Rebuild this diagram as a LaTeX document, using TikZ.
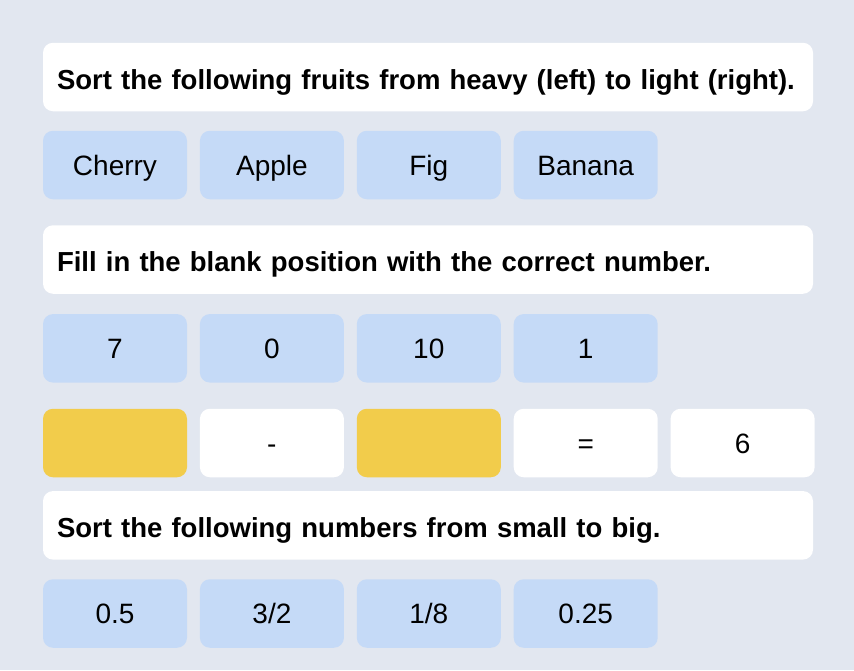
\documentclass[tikz,border=0pt]{standalone}
\usepackage{fontspec}
\setmainfont{Liberation Sans}
\usetikzlibrary{positioning}
\definecolor{bgcol}{RGB}{226,231,240}
\definecolor{cellblue}{RGB}{197,218,247}
\definecolor{blankyellow}{RGB}{242,204,75}

\begin{document}
\begin{tikzpicture}[
        x=1pt, y=-1pt,
        node distance=12.5pt,
        every node/.style={rounded corners=10pt, minimum height=68.5pt, font=\fontsize{28}{32}\selectfont, text height=26.6pt, text depth=5.9pt},
        question/.style={fill=white, text width=742pt, inner xsep=14pt, align=left, font=\fontsize{27.5}{32}\selectfont\bfseries, text height=27.7pt, text depth=3.6pt},
        cell/.style={fill=cellblue, minimum width=144pt},
        blank/.style={fill=blankyellow, minimum width=144pt},
        sign/.style={fill=white, minimum width=144pt}
        ]

        % Background
        \fill[bgcol] (0,0) rectangle (854,670);

        % Fruits
        \node[question] (q1) at (428,77) {Sort the following fruits from heavy (left) to light (right).};
        \node[cell] (cherry) at (115,165) {Cherry};
        \node[cell, right=of cherry] (apple) {Apple};
        \node[cell, right=of apple] (fig) {Fig};
        \node[cell, right=of fig] (banana) {Banana};

        % Blank
        \node[question] (q2) at (428,259.5) {Fill in the blank position with the correct number.};
        \node[cell] (n7) at (115,348.3) {7};
        \node[cell, right=of n7] (n0) {0};
        \node[cell, right=of n0] (n10) {10};
        \node[cell, right=of n10] (n1) {1};
        \node[blank] (b1) at (115,443) {};
        \node[sign, right=of b1] (minus) {-};
        \node[blank, right=of minus] (b2) {};
        \node[sign, right=of b2] (eq) {=};
        \node[sign, right=of eq] (res) {6};

        % Numbers
        \node[question] (q3) at (428,525.3) {Sort the following numbers from small to big.};
        \node[cell] (half) at (115,613.5) {0.5};
        \node[cell, right=of half] (threehalf) {3/2};
        \node[cell, right=of threehalf] (eighth) {1/8};
        \node[cell, right=of eighth] (quarter) {0.25};

    \end{tikzpicture}
\end{document}
